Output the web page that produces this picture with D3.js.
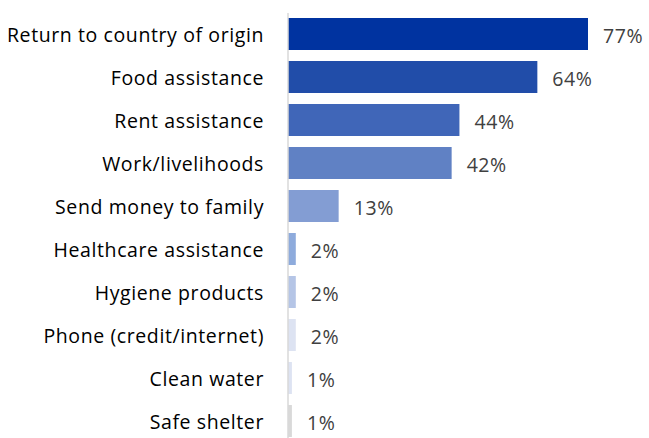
<!DOCTYPE html>
<html>
<head>
<meta charset="utf-8">
<script src="https://cdn.jsdelivr.net/npm/d3@7/dist/d3.min.js"></script>
<style>
  html, body { margin: 0; padding: 0; background: #fff; }
  svg { display: block; }
</style>
</head>
<body>
<svg id="chart" width="649" height="438"></svg>
<script>
// Reasons / needs and share of respondents (%)
const categories = [
  "Return to country of origin",
  "Food assistance",
  "Rent assistance",
  "Work/livelihoods",
  "Send money to family",
  "Healthcare assistance",
  "Hygiene products",
  "Phone (credit/internet)",
  "Clean water",
  "Safe shelter"
];
const values = [77, 64, 44, 42, 13, 2, 2, 2, 1, 1];
const barColors = [
  "#0033a0", "#214da9", "#4066b8", "#6081c4", "#839dd3",
  "#8eabdc", "#b5c5e6", "#dde3f2", "#dde3f2", "#d9d9d9"
];

const svg = d3.select("#chart");
const axisX = 288;
const fontFamily = "'Open Sans', sans-serif";
const fontSize = 19.5;
const spacing = 0.6;

const x = d3.scaleLinear().domain([0, 77]).range([axisX, 588]);
const y = d3.scaleBand()
  .domain(categories)
  .range([12.5, 442.5])
  .paddingInner(0.256)
  .paddingOuter(0.128);

// Bars
svg.selectAll("rect.bar")
  .data(categories)
  .join("rect")
  .attr("class", "bar")
  .attr("x", x(0))
  .attr("y", d => y(d))
  .attr("width", (d, i) => x(values[i]) - x(0))
  .attr("height", y.bandwidth())
  .attr("fill", (d, i) => barColors[i]);

// Vertical category axis line
svg.append("line")
  .attr("x1", axisX).attr("x2", axisX)
  .attr("y1", 13).attr("y2", 438)
  .attr("stroke", "#d9d9d9")
  .attr("stroke-width", 1.5);

// Category labels
svg.selectAll("text.cat")
  .data(categories)
  .join("text")
  .attr("class", "cat")
  .attr("x", 264)
  .attr("y", d => y(d) + y.bandwidth() / 2 + 8)
  .attr("text-anchor", "end")
  .attr("font-family", fontFamily)
  .attr("font-size", fontSize)
  .attr("letter-spacing", spacing)
  .attr("fill", "#000")
  .text(d => d);

// Value labels
svg.selectAll("text.val")
  .data(categories)
  .join("text")
  .attr("class", "val")
  .attr("x", (d, i) => x(values[i]) + 15)
  .attr("y", d => y(d) + y.bandwidth() / 2 + 9)
  .attr("font-family", fontFamily)
  .attr("font-size", fontSize)
  .attr("letter-spacing", spacing)
  .attr("fill", "#404040")
  .text((d, i) => values[i] + "%");
</script>
</body>
</html>
